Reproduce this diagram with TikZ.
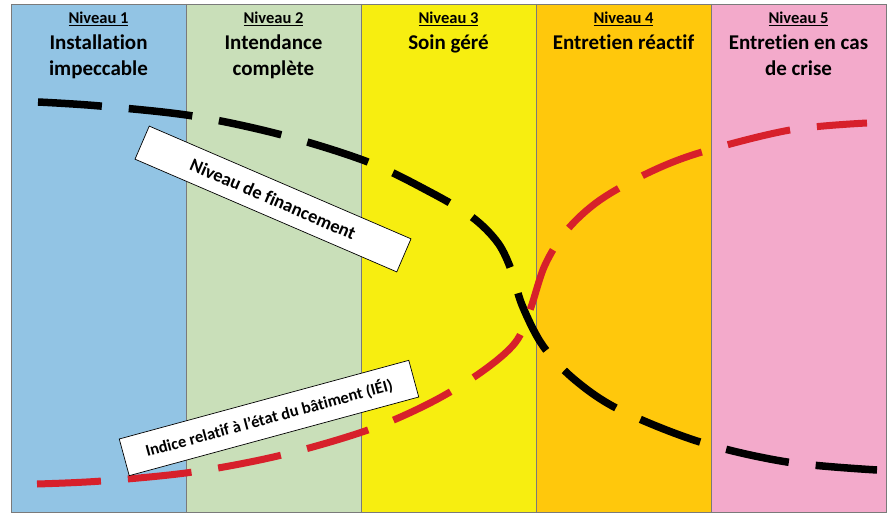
\documentclass[tikz,border=0pt]{standalone}
\usepackage{fontspec}
\setmainfont{Carlito}[Ligatures={NoCommon}]
\usetikzlibrary{calc}
\definecolor{cA}{HTML}{92C4E4}
\definecolor{cB}{HTML}{C9DFB9}
\definecolor{cC}{HTML}{F7EE10}
\definecolor{cD}{HTML}{FFC80C}
\definecolor{cE}{HTML}{F3AACB}
\definecolor{redline}{HTML}{D7202B}
\definecolor{framegray}{HTML}{7A7A7A}
\tikzset{
  colbox/.style={draw=framegray,line width=0.8pt},
  lvl/.style={font=\bfseries\fontsize{16.5}{18}\selectfont,anchor=center},
  ttl/.style={font=\bfseries\fontsize{21}{26}\selectfont,align=center,anchor=north},
  curve/.style={line width=7.5pt,dash pattern=on 64pt off 27pt},
  lbl/.style={draw=black,fill=white,line width=0.7pt,font=\bfseries\fontsize{18.5}{20}\selectfont,inner sep=0pt,anchor=center}
}
\begin{document}
\begin{tikzpicture}[x=1pt,y=-1pt]
\useasboundingbox (0,0) rectangle (892,513);
% columns
\fill[cA] (11,4) rectangle (186,512);
\fill[cB] (186,4) rectangle (361,512);
\fill[cC] (361,4) rectangle (536,512);
\fill[cD] (536,4) rectangle (711,512);
\fill[cE] (711,4) rectangle (886,512);
\foreach \x in {186,361,536,711}{\draw[framegray,line width=0.6pt] (\x,4) -- (\x,512);}
\draw[colbox] (11,4) rectangle (886,512);
% headers
\foreach \c/\n/\t [count=\i] in {98.5/1/{Installation\\impeccable},273.5/2/{Intendance\\complète},448.5/3/{Soin géré},623.5/4/{Entretien réactif},798.5/5/{Entretien en cas\\de crise}}{
  \node[lvl] (lv\i) at (\c,18.5) {\underline{Niveau \n}};
  \node[ttl] (tt\i) at (\c,31) {\t};
}
% black curve: funding level
\draw[curve,black] plot[smooth,tension=0.55] coordinates {(38,102) (100,106) (193,116) (282,135) (368,162) (430,192) (472,217) (498,243) (512,272) (522,305) (543,346) (575,380) (620,410) (700,442) (787,462) (877,470)};
% red curve: IEI
\draw[curve,redline,line width=7pt] plot[smooth,tension=0.55] coordinates {(37,484) (102,481) (193,472) (282,455) (368,430) (430,403) (480,373) (515,343) (530,310) (545,265) (567,230) (600,200) (650,172) (702,152) (790,130) (867,123)};
% labels
\node[lbl,rotate=-23.3,minimum width=285pt,minimum height=36pt] (fin) at (273,199) {Niveau de financement};
\node[lbl,font=\bfseries\fontsize{16.5}{18}\selectfont,rotate=15.2,minimum width=300pt,minimum height=38pt] (iei) at (269,418) {Indice relatif à l’état du bâtiment (IÉI)};
\end{tikzpicture}
\end{document}
